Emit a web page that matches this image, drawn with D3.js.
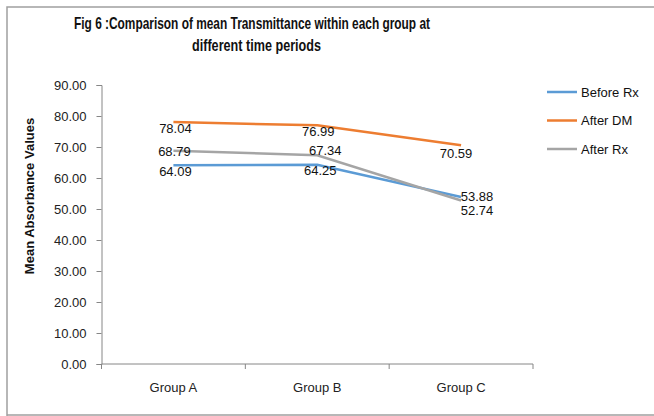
<!DOCTYPE html>
<html>
<head>
<meta charset="utf-8">
<script src="https://cdn.jsdelivr.net/npm/d3@7"></script>
<style>
  html, body { margin: 0; padding: 0; background: #fff; }
  svg { display: block; }
  text { font-family: "Liberation Sans", Arial, sans-serif; }
</style>
</head>
<body>
<svg id="chart" width="654" height="416"></svg>
<script>
// Chart data
const groups = ["Group A", "Group B", "Group C"];
const seriesNames = ["Before Rx", "After DM", "After Rx"];
const beforeRx = [64.09, 64.25, 53.88];
const afterDM = [78.04, 76.99, 70.59];
const afterRx = [68.79, 67.34, 52.74];
const yTicks = [0, 10, 20, 30, 40, 50, 60, 70, 80, 90];
const colors = ["#5B9BD5", "#ED7D31", "#A5A5A5"];

// Value-label nudges (dx, dy) so overlapping labels stay readable
const labelNudges = [
  [[2, 6], [3, 6], [16, 0]],
  [[2, 6], [1, 6], [-5, 8]],
  [[1, 1], [8, -5], [16, 10]]
];

const series = [beforeRx, afterDM, afterRx];

const svg = d3.select("#chart");

// Outer frame
svg.append("path")
  .attr("d", "M7,417 L7,7 L660,7 M7,415 L660,415")
  .attr("fill", "none")
  .attr("stroke", "#a0a0a0")
  .attr("stroke-width", 1.5);

// Title
const title = svg.append("g")
  .attr("font-family", "Lato, sans-serif")
  .attr("font-weight", "bold")
  .attr("font-size", 16.5)
  .attr("fill", "#111");
title.append("text").attr("x", 74).attr("y", 29)
  .attr("textLength", 356).attr("lengthAdjust", "spacingAndGlyphs")
  .text("Fig 6 :Comparison of mean Transmittance within each group at");
title.append("text").attr("x", 192).attr("y", 51)
  .attr("textLength", 129).attr("lengthAdjust", "spacingAndGlyphs")
  .text("different time periods");

const x = d3.scaleBand().domain(groups).range([101.5, 533]);
const y = d3.scaleLinear().domain([0, 90]).range([364, 85]);

// Y axis
const yAxis = svg.append("g")
  .attr("transform", "translate(101.5,0)")
  .call(d3.axisLeft(y).tickValues(yTicks).tickSize(5).tickPadding(10)
    .tickFormat(d3.format(".2f")));
yAxis.selectAll("path, line").attr("stroke", "#868686");
yAxis.selectAll("text").attr("font-size", 13).attr("fill", "#222")
  .attr("font-family", "'Liberation Sans', Arial, sans-serif");

// X axis
const xAxis = svg.append("g")
  .attr("transform", "translate(0,364)")
  .call(d3.axisBottom(x).tickSize(0).tickPadding(19));
xAxis.selectAll("path").attr("stroke", "#868686").attr("d", "M101.5,0H533");
xAxis.selectAll("text").attr("font-size", 13).attr("fill", "#222")
  .attr("font-family", "'Liberation Sans', Arial, sans-serif");
// category boundary ticks
const bounds = groups.map(g => x(g)).concat([x(groups[groups.length - 1]) + x.bandwidth()]);
xAxis.selectAll("line.bound").data(bounds).enter().append("line")
  .attr("class", "bound")
  .attr("x1", d => d).attr("x2", d => d)
  .attr("y1", 0).attr("y2", 5)
  .attr("stroke", "#868686");

// Y axis title
svg.append("text")
  .attr("transform", "translate(34,196) rotate(-90)")
  .attr("text-anchor", "middle")
  .attr("font-family", "Lato, sans-serif")
  .attr("font-weight", "bold")
  .attr("font-size", 13)
  .attr("fill", "#111")
  .text("Mean Absorbance Values");

const cx = g => x(g) + x.bandwidth() / 2;
const line = d3.line().x((d, i) => cx(groups[i])).y(d => y(d));

// Series lines
svg.append("g").selectAll("path").data(series).enter().append("path")
  .attr("d", d => line(d))
  .attr("fill", "none")
  .attr("stroke", (d, i) => colors[i])
  .attr("stroke-width", 2.5);

// Value labels
series.forEach((vals, si) => {
  svg.append("g").selectAll("text").data(vals).enter().append("text")
    .attr("x", (d, i) => cx(groups[i]) + labelNudges[si][i][0])
    .attr("y", (d, i) => y(d) + labelNudges[si][i][1])
    .attr("text-anchor", "middle")
    .attr("dominant-baseline", "central")
    .attr("font-size", 13)
    .attr("fill", "#111")
    .text(d => d.toFixed(2));
});

// Legend
const legend = svg.append("g");
seriesNames.forEach((name, i) => {
  const ly = 92 + i * 28.5;
  legend.append("line")
    .attr("x1", 547).attr("x2", 577)
    .attr("y1", ly).attr("y2", ly)
    .attr("stroke", colors[i]).attr("stroke-width", 2.5);
  legend.append("text")
    .attr("x", 581).attr("y", ly)
    .attr("dominant-baseline", "central")
    .attr("font-size", 13)
    .attr("fill", "#111")
    .text(name);
});
</script>
</body>
</html>
